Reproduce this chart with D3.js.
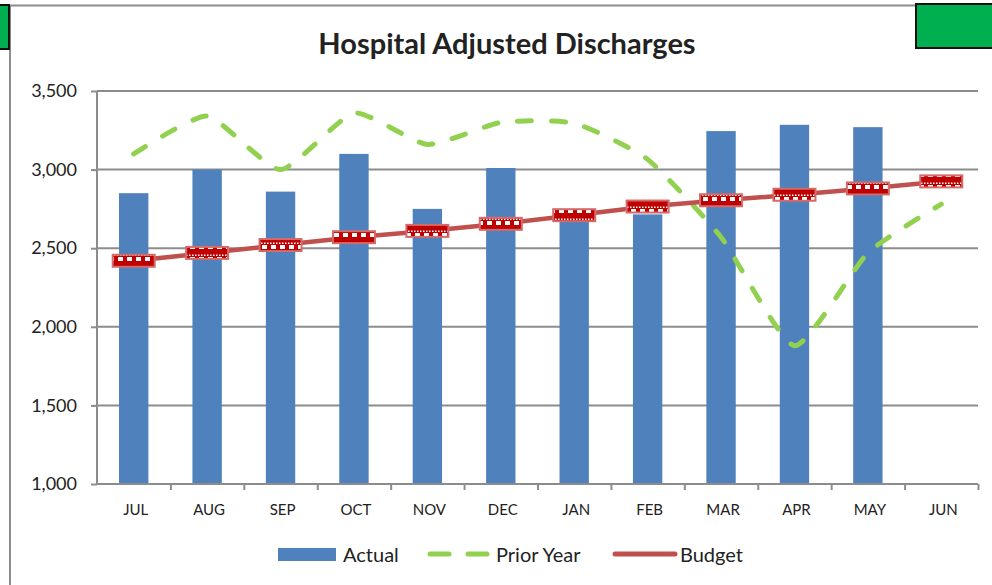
<!DOCTYPE html>
<html>
<head>
<meta charset="utf-8">
<script src="https://cdn.jsdelivr.net/npm/d3@7"></script>
<style>
  body { margin: 0; background: #fff; }
  text { font-family: Lato, "Open Sans", sans-serif; fill: #222; }
</style>
</head>
<body>
<svg id="chart" width="992" height="585"></svg>
<script>
// chart data
var months = ["JUL","AUG","SEP","OCT","NOV","DEC","JAN","FEB","MAR","APR","MAY","JUN"];
var actual = [2850, 3000, 2860, 3100, 2750, 3010, 2700, 2715, 3245, 3285, 3270, null];
var priorYear = [3100, 3340, 3000, 3360, 3160, 3300, 3295, 3065, 2570, 1880, 2470, 2780];
var budget = [2420, 2470, 2520, 2570, 2610, 2655, 2710, 2765, 2805, 2840, 2880, 2925];
var yTicks = [1000, 1500, 2000, 2500, 3000, 3500];

var svg = d3.select("#chart");
var plotLeft = 97, plotRight = 978, plotTop = 91, plotBottom = 484;

//frame bits from the sheet
svg.append("line").attr("x1", 10).attr("x2", 916).attr("y1", 5.5).attr("y2", 5.5)
    .attr("stroke", "#8c8c8c").attr("stroke-width", 2);
svg.append("line").attr("x1", 10).attr("x2", 10).attr("y1", 5).attr("y2", 585)
    .attr("stroke", "#8c8c8c").attr("stroke-width", 2);
svg.append("rect").attr("x", -2).attr("y", 5).attr("width", 11).attr("height", 44)
    .attr("fill", "#00b050").attr("stroke", "#111").attr("stroke-width", 2);
svg.append("rect").attr("x", 916).attr("y", 4).attr("width", 80).attr("height", 44)
    .attr("fill", "#00b050").attr("stroke", "#111").attr("stroke-width", 2);

//pattern for budget markers
var defs = svg.append("defs");
var pat = defs.append("pattern").attr("id", "brick").attr("patternUnits", "userSpaceOnUse")
    .attr("width", 9).attr("height", 12).attr("x", 0).attr("y", 0);
pat.append("rect").attr("width", 9).attr("height", 12).attr("fill", "#c00000");
pat.append("rect").attr("x", 1).attr("y", 5).attr("width", 5).attr("height", 4).attr("fill", "#fff");
pat.append("rect").attr("x", 0).attr("y", 2.5).attr("width", 1.5).attr("height", 1.5).attr("fill", "#fff");
pat.append("rect").attr("x", 3).attr("y", 2.5).attr("width", 1.5).attr("height", 1.5).attr("fill", "#fff");
pat.append("rect").attr("x", 6).attr("y", 2.5).attr("width", 1.5).attr("height", 1.5).attr("fill", "#fff");

//scales
var x = d3.scaleBand().domain(months).range([plotLeft, plotRight]).paddingInner(0.6).paddingOuter(0.3);
var xEdge = d3.scaleLinear().domain([0, 12]).range([plotLeft, plotRight]);
var y = d3.scaleLinear().domain([1000, 3500]).range([plotBottom, plotTop]);
var cx = function(m){ return x(m) + x.bandwidth() / 2; };

//gridlines
svg.append("g").selectAll("line").data(yTicks.slice(1)).enter().append("line")
    .attr("x1", plotLeft).attr("x2", plotRight)
    .attr("y1", d => y(d)).attr("y2", d => y(d))
    .attr("stroke", "#8c8c8c").attr("stroke-width", 2);

//y axis
var yAxis = svg.append("g").attr("transform", "translate(" + plotLeft + ",0)")
    .call(d3.axisLeft(y).tickValues(yTicks).tickSize(6).tickPadding(14).tickFormat(d3.format(",")));
yAxis.selectAll("line, path").attr("stroke", "#8c8c8c").attr("stroke-width", 2);
yAxis.selectAll("text").attr("font-size", 18).style("font-family", "Lato").attr("fill", "#222");
yAxis.select(".domain").attr("d", "M0," + plotTop + "V" + plotBottom);

//bars
svg.append("g").selectAll("rect").data(months.map((m, i) => [m, actual[i]]).filter(d => d[1] != null))
    .enter().append("rect")
    .attr("x", d => x(d[0]))
    .attr("y", d => y(d[1]))
    .attr("width", x.bandwidth())
    .attr("height", d => plotBottom - y(d[1]))
    .attr("fill", "#4f81bd");

//x axis
var xAxis = svg.append("g").attr("transform", "translate(0," + plotBottom + ")")
    .call(d3.axisBottom(xEdge).tickValues(d3.range(1, 13)).tickSize(6).tickFormat(""));
xAxis.selectAll("line, path").attr("stroke", "#8c8c8c").attr("stroke-width", 2);
xAxis.select(".domain").attr("d", "M" + plotLeft + ",0H" + plotRight);
svg.append("g").selectAll("text").data(months).enter().append("text")
    .attr("x", d => cx(d) + 2).attr("y", plotBottom + 31)
    .attr("text-anchor", "middle").attr("font-size", 15)
    .text(d => d);

//prior year line
var prior = d3.line().x((d, i) => cx(months[i])).y(d => y(d)).curve(d3.curveCardinal.tension(0.45));
svg.append("path").datum(priorYear).attr("d", prior)
    .attr("fill", "none").attr("stroke", "#92d050").attr("stroke-width", 5)
    .attr("stroke-linecap", "round").attr("stroke-dasharray", "14,20");

//budget line
var bud = d3.line().x((d, i) => cx(months[i])).y(d => y(d));
svg.append("path").datum(budget).attr("d", bud)
    .attr("fill", "none").attr("stroke", "#c0504d").attr("stroke-width", 4.5);
svg.append("g").selectAll("rect").data(budget).enter().append("rect")
    .attr("x", (d, i) => cx(months[i]) - 21)
    .attr("y", d => y(d) - 6)
    .attr("width", 42).attr("height", 12)
    .attr("fill", "url(#brick)")
    .attr("stroke", "#d46a6a").attr("stroke-width", 2);

//title
svg.append("text").attr("x", 507).attr("y", 54).attr("text-anchor", "middle")
    .attr("font-size", 29).attr("font-weight", "bold").attr("fill", "#111")
    .text("Hospital Adjusted Discharges");

//legend
var lg = svg.append("g");
lg.append("rect").attr("x", 278).attr("y", 548).attr("width", 58).attr("height", 13).attr("fill", "#4f81bd");
lg.append("text").attr("x", 343).attr("y", 562).attr("font-size", 20).text("Actual");
lg.append("line").attr("x1", 430).attr("x2", 449).attr("y1", 554).attr("y2", 554)
    .attr("stroke", "#92d050").attr("stroke-width", 5).attr("stroke-linecap", "round");
lg.append("line").attr("x1", 468).attr("x2", 487).attr("y1", 554).attr("y2", 554)
    .attr("stroke", "#92d050").attr("stroke-width", 5).attr("stroke-linecap", "round");
lg.append("text").attr("x", 496).attr("y", 562).attr("font-size", 20).text("Prior Year");
lg.append("line").attr("x1", 615).attr("x2", 675).attr("y1", 554).attr("y2", 554)
    .attr("stroke", "#c0504d").attr("stroke-width", 5).attr("stroke-linecap", "round");
lg.append("text").attr("x", 680).attr("y", 562).attr("font-size", 20).text("Budget");
</script>
</body>
</html>
